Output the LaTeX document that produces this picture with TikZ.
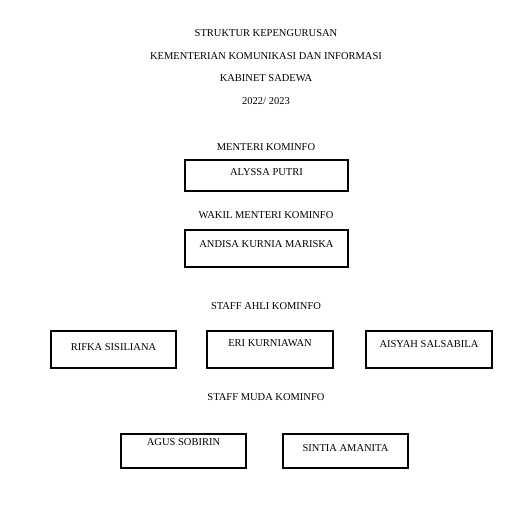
\documentclass[tikz,border=0pt]{standalone}
\usepackage{fontspec}
\setmainfont{Liberation Serif}
\begin{document}
\begin{tikzpicture}[x=1pt,y=-1pt,
  box/.style={draw=black,line width=1.3pt,rectangle,inner sep=0pt},
  txt/.style={inner sep=0pt,font=\fontsize{10.5}{12}\selectfont,yshift=-1pt}]
\useasboundingbox[fill=white] (0,0) rectangle (527,524);
% titles
\node[txt] (t1) at (266,32) {STRUKTUR KEPENGURUSAN};
\node[txt] (t2) at (266,55) {KEMENTERIAN KOMUNIKASI DAN INFORMASI};
\node[txt] (t3) at (266,77) {KABINET SADEWA};
\node[txt] (t4) at (266,100) {2022/ 2023};
% section headings
\node[txt] (h1) at (266,146) {MENTERI KOMINFO};
\node[txt] (h2) at (266,214) {WAKIL MENTERI KOMINFO};
\node[txt] (h3) at (266,305) {STAFF AHLI KOMINFO};
\node[txt] (h4) at (266,396) {STAFF MUDA KOMINFO};
% boxes
\node[box,minimum width=163pt,minimum height=31pt] (b1) at (266.5,175.5) {};
\node[txt] (n1) at (266.5,171) {ALYSSA PUTRI};
\node[box,minimum width=163pt,minimum height=37pt] (b2) at (266.5,248.5) {};
\node[txt] (n2) at (266.5,243) {ANDISA KURNIA MARISKA};
\node[box,minimum width=125pt,minimum height=37pt] (b3) at (113.5,349.5) {};
\node[txt] (n3) at (113.5,346) {RIFKA SISILIANA};
\node[box,minimum width=126pt,minimum height=37pt] (b4) at (270,349.5) {};
\node[txt] (n4) at (270,342) {ERI KURNIAWAN};
\node[box,minimum width=126pt,minimum height=37pt] (b5) at (429,349.5) {};
\node[txt] (n5) at (429,343) {AISYAH SALSABILA};
\node[box,minimum width=125pt,minimum height=34pt] (b6) at (183.5,451) {};
\node[txt] (n6) at (183.5,441) {AGUS SOBIRIN};
\node[box,minimum width=125pt,minimum height=34pt] (b7) at (345.5,451) {};
\node[txt] (n7) at (345.5,447) {SINTIA AMANITA};
\end{tikzpicture}
\end{document}
